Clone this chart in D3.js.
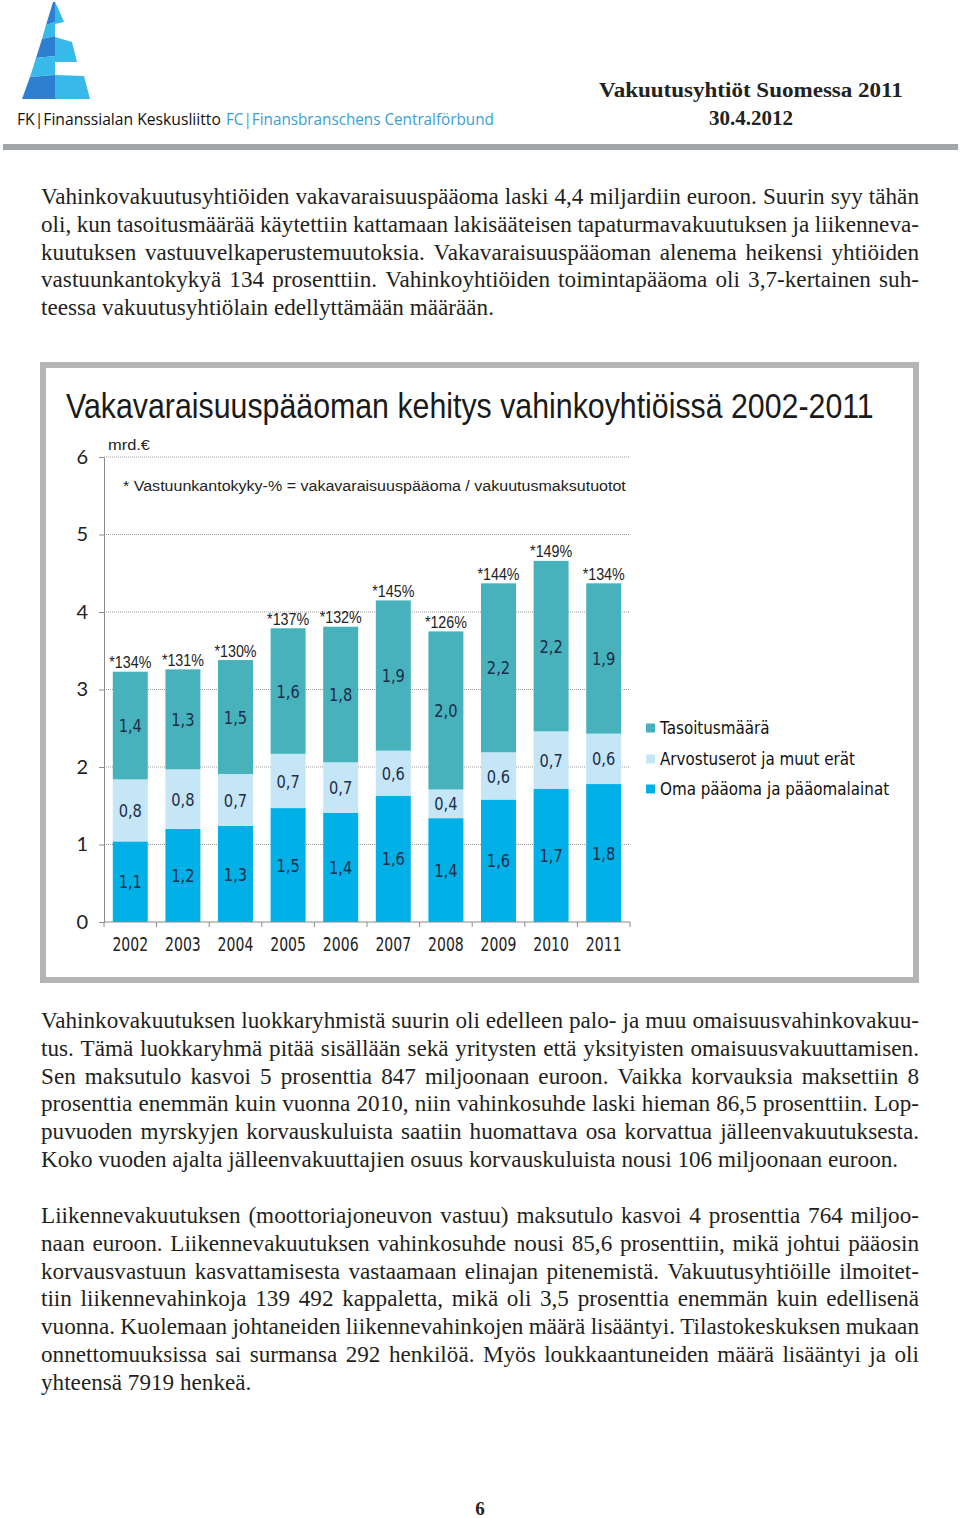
<!DOCTYPE html>
<html><head><meta charset="utf-8">
<script src="https://cdn.jsdelivr.net/npm/d3@7"></script>
<style>body{margin:0;background:#fff}svg{display:block}</style>
</head><body>
<svg id="page" width="960" height="1518"></svg>
<script>
// ---------- chart data ----------
const years = ['2002','2003','2004','2005','2006','2007','2008','2009','2010','2011'];
const omaPaaoma   = [1.04, 1.20, 1.24, 1.47, 1.41, 1.63, 1.34, 1.58, 1.72, 1.78];
const arvostus    = [0.80, 0.77, 0.67, 0.70, 0.65, 0.58, 0.37, 0.61, 0.74, 0.65];
const tasoitus    = [1.39, 1.29, 1.47, 1.62, 1.75, 1.94, 2.04, 2.18, 2.20, 1.94];
const omaLabels      = ['1,1','1,2','1,3','1,5','1,4','1,6','1,4','1,6','1,7','1,8'];
const arvostusLabels = ['0,8','0,8','0,7','0,7','0,7','0,6','0,4','0,6','0,7','0,6'];
const tasoitusLabels = ['1,4','1,3','1,5','1,6','1,8','1,9','2,0','2,2','2,2','1,9'];
const pctLabels = ['*134%','*131%','*130%','*137%','*132%','*145%','*126%','*144%','*149%','*134%'];
const yTicks = [0,1,2,3,4,5,6];
const seriesNames = ['Tasoitusmäärä','Arvostuserot ja muut erät','Oma pääoma ja pääomalainat'];
const seriesKeys  = ['tasoitus','arvostus','oma'];
const colors = {tasoitus:'#47b2bb', arvostus:'#c5e6f6', oma:'#00b0e6'};

// ---------- text content ----------
const para1 = [
 'Vahinkovakuutusyhtiöiden vakavaraisuuspääoma laski 4,4 miljardiin euroon. Suurin syy tähän',
 'oli, kun tasoitusmäärää käytettiin kattamaan lakisääteisen tapaturmavakuutuksen ja liikenneva-',
 'kuutuksen vastuuvelkaperustemuutoksia. Vakavaraisuuspääoman alenema heikensi yhtiöiden',
 'vastuunkantokykyä 134 prosenttiin. Vahinkoyhtiöiden toimintapääoma oli 3,7-kertainen suh-',
 'teessa vakuutusyhtiölain edellyttämään määrään.'
];
const para2 = [
 'Vahinkovakuutuksen luokkaryhmistä suurin oli edelleen palo- ja muu omaisuusvahinkovakuu-',
 'tus. Tämä luokkaryhmä pitää sisällään sekä yritysten että yksityisten omaisuusvakuuttamisen.',
 'Sen maksutulo kasvoi 5 prosenttia 847 miljoonaan euroon. Vaikka korvauksia maksettiin 8',
 'prosenttia enemmän kuin vuonna 2010, niin vahinkosuhde laski hieman 86,5 prosenttiin. Lop-',
 'puvuoden myrskyjen korvauskuluista saatiin huomattava osa korvattua jälleenvakuutuksesta.',
 'Koko vuoden ajalta jälleenvakuuttajien osuus korvauskuluista nousi 106 miljoonaan euroon.'
];
const para3 = [
 'Liikennevakuutuksen (moottoriajoneuvon vastuu) maksutulo kasvoi 4 prosenttia 764 miljoo-',
 'naan euroon. Liikennevakuutuksen vahinkosuhde nousi 85,6 prosenttiin, mikä johtui pääosin',
 'korvausvastuun kasvattamisesta vastaamaan elinajan pitenemistä. Vakuutusyhtiöille ilmoitet-',
 'tiin liikennevahinkoja 139 492 kappaletta, mikä oli 3,5 prosenttia enemmän kuin edellisenä',
 'vuonna. Kuolemaan johtaneiden liikennevahinkojen määrä lisääntyi. Tilastokeskuksen mukaan',
 'onnettomuuksissa sai surmansa 292 henkilöä. Myös loukkaantuneiden määrä lisääntyi ja oli',
 'yhteensä 7919 henkeä.'
];

const svg = d3.select('#page');
svg.append('rect').attr('width',960).attr('height',1518).attr('fill','#fff');

function txt(g, x, y, s, o) {
  const t = g.append('text')
    .attr('font-family', o.ff).attr('font-size', o.fs)
    .attr('fill', o.fill || '#000')
    .attr('text-anchor', o.anchor || 'start')
    .text(s);
  if (o.dy) t.attr('dy', o.dy);
  if (o.fw) t.attr('font-weight', o.fw);
  let sx = o.sx || 1;
  if (o.len) { sx = o.len / t.node().getComputedTextLength(); }
  t.attr('transform', `translate(${x},${y}) scale(${sx},1)`);
  return t;
}

// ---------- header ----------
const logo = svg.append('g');
const dark = '#2d7fd2', light = '#37b9ea';
const logoPolys = [
  [[53,2],[55,2],[55,22],[46,25]],
  [[55,2],[58,8],[64,22],[55,24]],
  [[46,25],[55,22],[55,36],[42,39]],
  [[42,39],[55,36],[55,56],[36,58]],
  [[55,37],[72,42],[77,62],[55,62]],
  [[36,58],[55,56],[55,75],[30,77]],
  [[30,77],[55,75],[55,99],[22,99]],
  [[55,75],[84,76],[90,99],[55,99]]
];
const logoCols = [dark, light, light, dark, light, light, dark, light];
logoPolys.forEach((p,i)=>logo.append('polygon').attr('points', p.map(q=>q.join(',')).join(' ')).attr('fill', logoCols[i]));

txt(svg, 17, 125, 'FK|Finanssialan Keskusliitto', {ff:'Open Sans', fs:17, fill:'#111', len:204});
txt(svg, 226, 125, 'FC|Finansbranschens Centralförbund', {ff:'Open Sans', fs:17, fill:'#3a9ed6', len:268});
txt(svg, 751, 97, 'Vakuutusyhtiöt Suomessa 2011', {ff:'Liberation Serif', fs:21, fw:'bold', anchor:'middle', fill:'#222', len:304});
txt(svg, 751, 125, '30.4.2012', {ff:'Liberation Serif', fs:21, fw:'bold', anchor:'middle', fill:'#222'});
svg.append('rect').attr('x',3).attr('y',144).attr('width',955).attr('height',6).attr('fill','#a2a5a8');

// ---------- body text ----------
const BODY_FS = 22.4, BODY_SX = 1.035;
function paragraph(lines, y0, pitch) {
  const L = 41, R = 919;
  lines.forEach((line, i) => {
    const yy = y0 + i * pitch;
    const last = i === lines.length - 1;
    const g = svg.append('g');
    if (last) {
      txt(g, L, yy, line, {ff:'Liberation Serif', fs:BODY_FS, sx:BODY_SX, fill:'#231f20'});
      return;
    }
    const words = line.split(' ');
    const widths = words.map(w => {
      const t = txt(g, 0, 0, w, {ff:'Liberation Serif', fs:BODY_FS});
      const wd = t.node().getComputedTextLength() * BODY_SX; t.remove(); return wd;
    });
    const total = d3.sum(widths);
    const gap = (R - L - total) / (words.length - 1);
    let xx = L;
    words.forEach((w, k) => {
      txt(g, xx, yy, w, {ff:'Liberation Serif', fs:BODY_FS, sx:BODY_SX, fill:'#231f20'});
      xx += widths[k] + gap;
    });
  });
}
paragraph(para1, 204, 27.8);
paragraph(para2, 1028, 27.8);
paragraph(para3, 1223, 27.8);
txt(svg, 480, 1515, '6', {ff:'Liberation Serif', fs:19, fw:'bold', anchor:'middle', fill:'#222'});

// ---------- chart frame ----------
svg.append('rect').attr('x',43).attr('y',365).attr('width',873).attr('height',615)
  .attr('fill','#fff').attr('stroke','#b4b4b4').attr('stroke-width',6);

txt(svg, 66, 418, 'Vakavaraisuuspääoman kehitys vahinkoyhtiöissä 2002-2011', {ff:'Liberation Sans', fs:35, fill:'#1a1a1a', len:808});
txt(svg, 108, 450, 'mrd.€', {ff:'Liberation Sans', fs:15.5, fill:'#222', len:42});
txt(svg, 123, 491, '* Vastuunkantokyky-% = vakavaraisuuspääoma / vakuutusmaksutuotot', {ff:'Liberation Sans', fs:15.5, fill:'#222', len:503});

// ---------- scales ----------
const x = d3.scaleBand().domain(years).range([104, 630]).paddingInner(0.335).paddingOuter(0.1675);
const y = d3.scaleLinear().domain([0, 6]).range([922, 457]);

// gridlines
const grid = svg.append('g');
grid.selectAll('line').data(yTicks.filter(d => d > 0)).join('line')
  .attr('x1', 104).attr('x2', 630).attr('y1', d => y(d)).attr('y2', d => y(d))
  .attr('stroke', '#9a9a9a').attr('stroke-width', 1).attr('stroke-dasharray', '1,1');

// y axis
const yAxis = svg.append('g').attr('transform', 'translate(104,0)')
  .call(d3.axisLeft(y).tickValues(yTicks).tickSize(5).tickSizeOuter(0).tickPadding(11).tickFormat(d3.format('d')));
yAxis.select('.domain').attr('stroke', '#8a8a8a');
yAxis.selectAll('.tick line').attr('stroke', '#8a8a8a');
yAxis.selectAll('.tick text').attr('font-family', 'Lato').attr('font-size', 20).attr('fill', '#222');

// stacked bars
const table = years.map((yr, i) => ({year: yr, oma: omaPaaoma[i], arvostus: arvostus[i], tasoitus: tasoitus[i]}));
const stacked = d3.stack().keys(['oma', 'arvostus', 'tasoitus'])(table);
const labelSets = {oma: omaLabels, arvostus: arvostusLabels, tasoitus: tasoitusLabels};
const barsG = svg.append('g');
stacked.forEach(layer => {
  barsG.append('g').selectAll('rect').data(layer).join('rect')
    .attr('x', d => x(d.data.year)).attr('width', x.bandwidth())
    .attr('y', d => y(d[1])).attr('height', d => y(d[0]) - y(d[1]))
    .attr('fill', colors[layer.key]);
});
const labG = svg.append('g');
stacked.forEach(layer => {
  layer.forEach((d, i) => {
    const cx = x(d.data.year) + x.bandwidth() / 2;
    const cy = (y(d[0]) + y(d[1])) / 2;
    txt(labG, cx, cy, labelSets[layer.key][i], {ff:'DejaVu Sans', fs:18.3, sx:0.8, anchor:'middle', dy:'0.36em', fill:'#1e2d4a'});
  });
});
// percentage labels
const topLayer = stacked[stacked.length - 1];
topLayer.forEach((d, i) => {
  txt(labG, x(d.data.year) + x.bandwidth() / 2, y(d[1]) - 3.5, pctLabels[i], {ff:'Liberation Sans', fs:16.8, sx:0.85, anchor:'middle', fill:'#222'});
});

// x axis
const xa = svg.append('g');
xa.append('line').attr('x1', 104).attr('x2', 630).attr('y1', y(0)).attr('y2', y(0)).attr('stroke', '#8a8a8a');
const bounds = years.map(yr => x(yr) - x.step() * x.paddingOuter()).concat([630]);
xa.selectAll('line.tk').data(bounds).join('line').attr('class', 'tk')
  .attr('x1', d => d).attr('x2', d => d).attr('y1', y(0)).attr('y2', y(0) + 5).attr('stroke', '#8a8a8a');
years.forEach(yr => txt(xa, x(yr) + x.bandwidth() / 2, 951, yr, {ff:'DejaVu Sans', fs:19, sx:0.74, anchor:'middle', fill:'#222'}));

// legend
const lg = svg.append('g');
const legendY = [728, 759, 789];
seriesKeys.forEach((k, i) => {
  lg.append('rect').attr('x', 646).attr('y', legendY[i] - 4.5).attr('width', 9).attr('height', 9).attr('fill', colors[k]);
  txt(lg, 660, legendY[i], seriesNames[i], {ff:'DejaVu Sans', fs:17.4, sx:0.87, dy:'0.36em', fill:'#111'});
});
</script>
</body></html>
